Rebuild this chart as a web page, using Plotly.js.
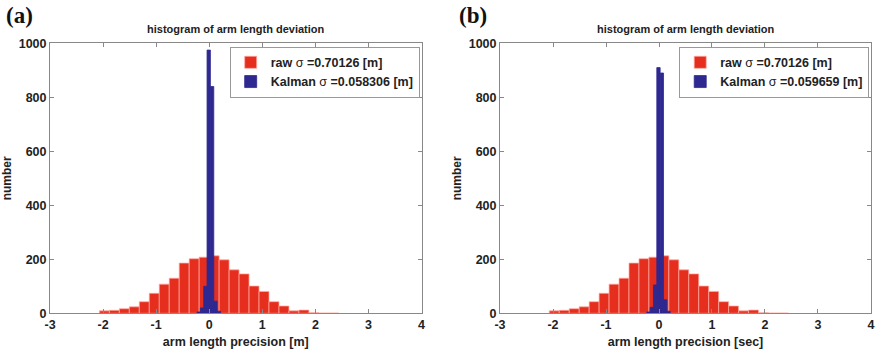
<!DOCTYPE html>
<html>
<head>
<meta charset="utf-8">
<script src="https://cdn.plot.ly/plotly-3.0.1.min.js"></script>
<style>html,body{margin:0;padding:0;background:#fff;}#chart{width:878px;height:351px;}</style>
</head>
<body>
<div id="chart"></div>
<script>
// Raw histogram (same for both panels)
const rawCenters = [-1.976,-1.788,-1.600,-1.412,-1.224,-1.036,-0.848,-0.660,-0.472,-0.284,-0.096,0.092,0.280,0.468,0.656,0.844,1.032,1.220,1.408,1.596,1.784,1.972,2.160,2.348];
const rawCounts  = [9,11,17,24,43,74,108,130,186,202,208,213,198,161,146,101,81,43,27,9,12,2,1,1];
const rawWidth = 0.188;
// Kalman histograms
const kalCenters = [-0.199,-0.136,-0.073,-0.010,0.054,0.117,0.180];
const kalCountsA = [5,20,100,975,840,45,8];
const kalCountsB = [5,22,105,910,890,50,8];
const kalWidth = 0.063;

const xTicks = [-3,-2,-1,0,1,2,3,4];
const yTicks = [0,200,400,600,800,1000];
const panelTitle = 'histogram of arm length deviation';
const xTitleA = 'arm length precision [m]';
const xTitleB = 'arm length precision [sec]';
const yTitle = 'number';
const rawNameA = 'raw <span style="font-weight:normal">σ</span> =0.70126 [m]';
const kalNameA = 'Kalman <span style="font-weight:normal">σ</span> =0.058306 [m]';
const rawNameB = 'raw <span style="font-weight:normal">σ</span> =0.70126 [m]';
const kalNameB = 'Kalman <span style="font-weight:normal">σ</span> =0.059659 [m]';

const RED = 'rgb(230,46,30)';
const BLUE = 'rgb(46,40,145)';

function bars(x, y, w, color, lineColor, name, xa, ya, leg) {
  return {type:'bar', x:x, y:y, width:x.map(()=>w), name:name, xaxis:xa, yaxis:ya, legend:leg,
    marker:{color:color, line:{color:lineColor, width:0.8}}, hoverinfo:'skip'};
}
const data = [
  bars(rawCenters, rawCounts, rawWidth, RED, 'rgba(255,170,160,0.9)', rawNameA, 'x', 'y', 'legend'),
  bars(kalCenters, kalCountsA, kalWidth, BLUE, BLUE, kalNameA, 'x', 'y', 'legend'),
  bars(rawCenters, rawCounts, rawWidth, RED, 'rgba(255,170,160,0.9)', rawNameB, 'x2', 'y2', 'legend2'),
  bars(kalCenters, kalCountsB, kalWidth, BLUE, BLUE, kalNameB, 'x2', 'y2', 'legend2')
];

const FAM = 'Liberation Sans, Arial, sans-serif';
const tickFont = {family:FAM, size:12.5, color:'#222', weight:'bold'};
function xax(domain, anchor, title) {
  return {domain:domain, anchor:anchor, range:[-3,4], tickvals:xTicks, ticktext:xTicks.map(String),
    ticks:'inside', ticklen:4, tickcolor:'#888', showline:true, linecolor:'#888', linewidth:1, mirror:'ticks',
    showgrid:false, zeroline:false, tickfont:tickFont,
    title:{text:title, font:{family:FAM, size:12.5, color:'#222', weight:'bold'}, standoff:5}};
}
function yax(domain, anchor) {
  return {domain:domain, anchor:anchor, range:[0,1000], tickvals:yTicks, ticktext:yTicks.map(String),
    ticks:'inside', ticklen:4, tickcolor:'#888', showline:true, linecolor:'#888', linewidth:1, mirror:'ticks',
    showgrid:false, zeroline:false, tickfont:tickFont,
    title:{text:yTitle, font:{family:FAM, size:12, color:'#222', weight:'bold'}, standoff:4}};
}
const legFont = {family:FAM, size:12.5, color:'#222', weight:'bold'};
function leg(x) {
  return {x:x, y:0.867, xref:'paper', yref:'paper', xanchor:'right', yanchor:'top', bgcolor:'#fff',
    bordercolor:'#999', borderwidth:1, font:legFont, tracegroupgap:0, itemwidth:30};
}
const titleFont = {family:FAM, size:11, color:'#222', weight:'bold'};
const layout = {
  width:878, height:351, margin:{l:0,r:0,t:0,b:0}, paper_bgcolor:'#fff', plot_bgcolor:'#fff',
  barmode:'overlay', bargap:0, showlegend:true,
  xaxis:xax([0.0570,0.4801],'y',xTitleA), yaxis:yax([0.1074,0.8766],'x'),
  xaxis2:xax([0.5695,0.9920],'y2',xTitleB), yaxis2:yax([0.1074,0.8766],'x2'),
  legend:leg(0.478), legend2:leg(0.990),
  annotations:[
    {text:panelTitle, x:0.2685, y:1-29/351, xref:'paper', yref:'paper', xanchor:'center', yanchor:'middle', showarrow:false, font:titleFont},
    {text:panelTitle, x:0.7808, y:1-29/351, xref:'paper', yref:'paper', xanchor:'center', yanchor:'middle', showarrow:false, font:titleFont},
    {text:'(a)', x:0.004, y:0.998, xref:'paper', yref:'paper', xanchor:'left', yanchor:'top', showarrow:false,
      font:{family:'Liberation Serif, Times New Roman, serif', size:23, color:'#111', weight:'bold'}},
    {text:'(b)', x:0.521, y:0.998, xref:'paper', yref:'paper', xanchor:'left', yanchor:'top', showarrow:false,
      font:{family:'Liberation Serif, Times New Roman, serif', size:23, color:'#111', weight:'bold'}}
  ]
};
Plotly.newPlot('chart', data, layout, {displayModeBar:false, staticPlot:true});
</script>
</body>
</html>
